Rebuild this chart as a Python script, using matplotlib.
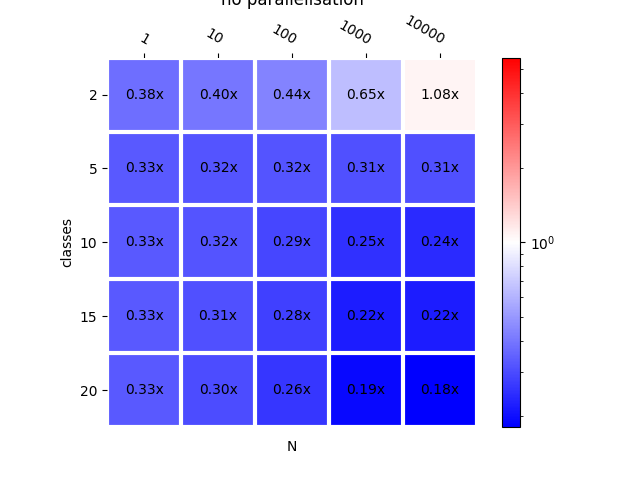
import numpy as np
import matplotlib
matplotlib.use('Agg')
import matplotlib.pyplot as plt
from matplotlib.colors import LogNorm

# speedup table
classes = [2, 5, 10, 15, 20]
n_values = [1, 10, 100, 1000, 10000]
speedup = np.array([
    [0.38, 0.40, 0.44, 0.65, 1.08],
    [0.33, 0.32, 0.32, 0.31, 0.31],
    [0.33, 0.32, 0.29, 0.25, 0.24],
    [0.33, 0.31, 0.28, 0.22, 0.22],
    [0.33, 0.30, 0.26, 0.19, 0.18],
])

fig, ax = plt.subplots(figsize=(6.4, 4.8), dpi=100)

# log norm centred on 1
vmin = speedup.min()
norm = LogNorm(vmin=vmin, vmax=1 / vmin)
im = ax.imshow(speedup, cmap='bwr', norm=norm)
fig.colorbar(im, ax=ax)

ax.set_xticks(np.arange(len(n_values)))
ax.set_yticks(np.arange(len(classes)))
ax.set_xticklabels(n_values)
ax.set_yticklabels(classes)

ax.tick_params(top=True, bottom=False, labeltop=True, labelbottom=False)
plt.setp(ax.get_xticklabels(), rotation=-30, ha='right', rotation_mode='anchor')

for spine in ax.spines.values():
    spine.set_visible(False)

ax.set_xticks(np.arange(len(n_values) + 1) - .5, minor=True)
ax.set_yticks(np.arange(len(classes) + 1) - .5, minor=True)
ax.grid(which='minor', color='w', linestyle='-', linewidth=3)
ax.tick_params(which='minor', bottom=False, left=False, top=False)

for i in range(len(classes)):
    for j in range(len(n_values)):
        ax.text(j, i, f'{speedup[i, j]:.2f}x', ha='center', va='center', color='black')

ax.set_xlabel('N')
ax.set_ylabel('classes')
ax.set_title('no parallelisation')

plt.savefig('out.png', dpi=100)
